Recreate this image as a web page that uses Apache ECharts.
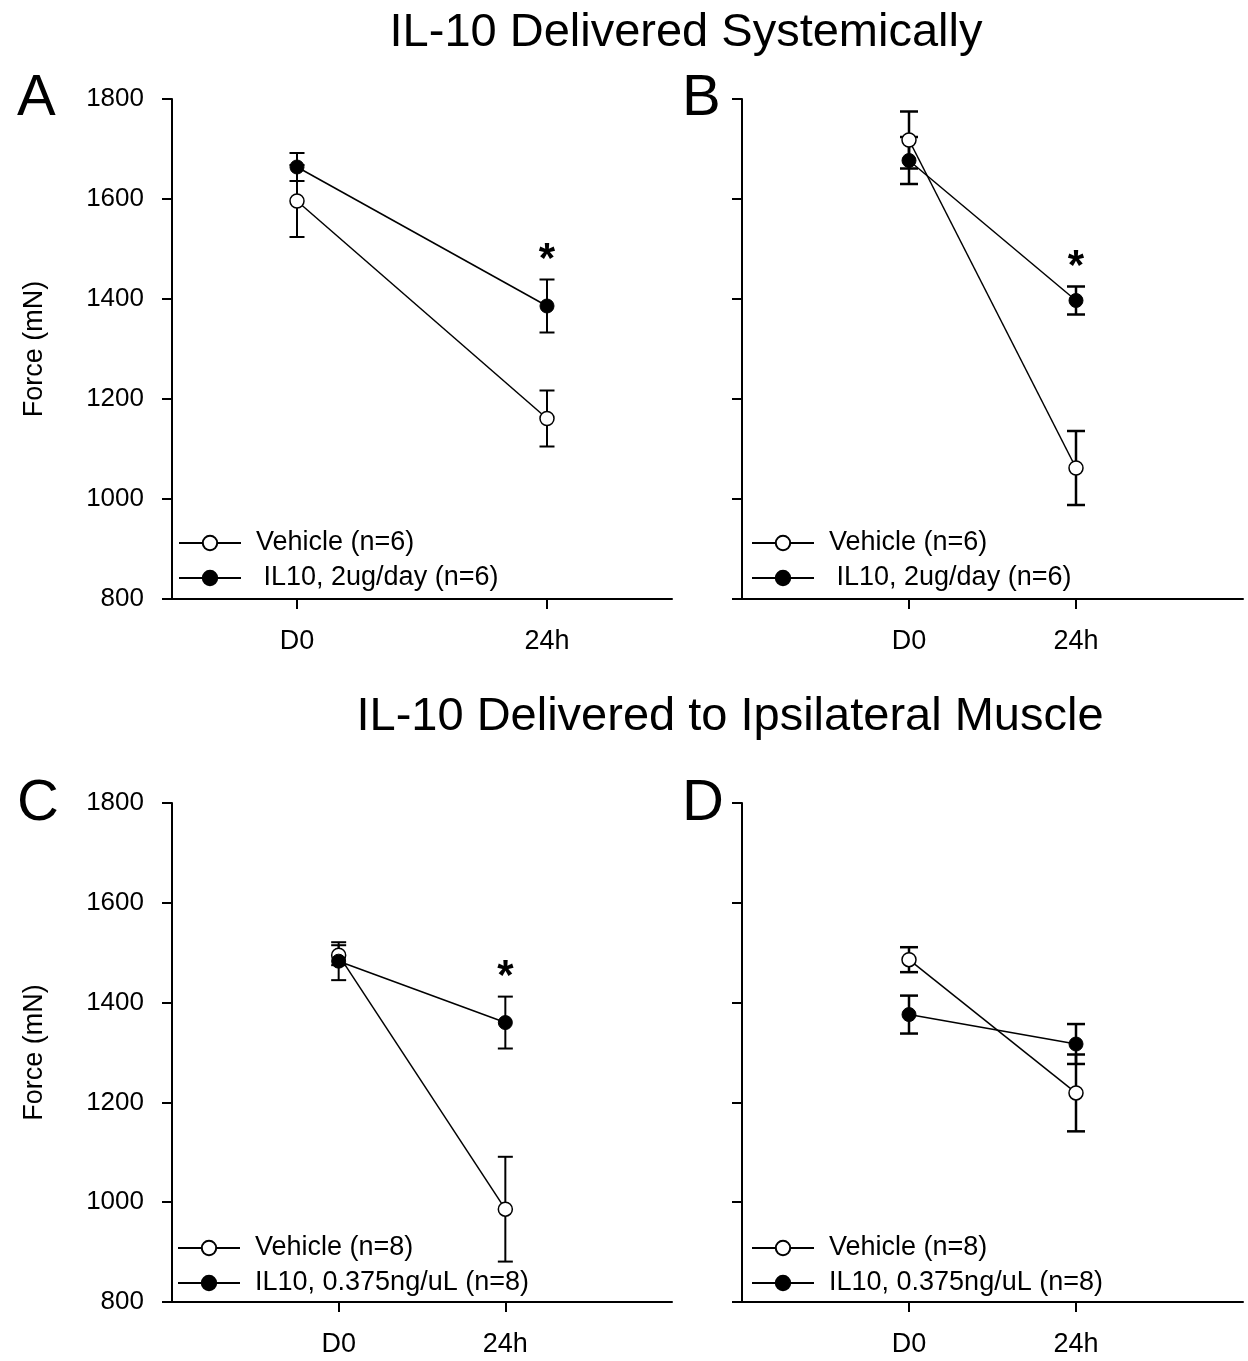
<!DOCTYPE html>
<html>
<head>
<meta charset="utf-8">
<title>IL-10 force</title>
<script src="https://cdn.jsdelivr.net/npm/echarts@6/dist/echarts.min.js"></script>
<style>
html, body { margin: 0; padding: 0; background: #fff; }
#main { width: 1248px; height: 1361px; }
</style>
</head>
<body>
<div id="main"></div>
<script>
var timePoints = ['D0', '24h'];
var tickX = [0, 1];

// A - systemic
var vehA = [1596, 1161];
var vehA_se = [72, 56];
var ilA = [1664, 1386];
var ilA_se = [28, 53];
var starA = [0, 1];

// B - systemic
var vehB = [1718, 1062];
var vehB_se = [57, 74];
var ilB = [1677, 1397];
var ilB_se = [47, 28];
var starB = [0, 1];

// C - ipsilateral
var vehC = [1495, 986];
var vehC_se = [20, 105];
var ilC = [1483, 1360];
var ilC_se = [38, 52];
var starC = [0, 1];

// D - ipsilateral
var vehD = [1486, 1219];
var vehD_se = [25, 77];
var ilD = [1376, 1317];
var ilD_se = [38, 40];
var starD = [0, 0];

var vehName6 = 'Vehicle (n=6)';
var ilName6 = ' IL10, 2ug/day (n=6)';
var vehName8 = 'Vehicle (n=8)';
var ilName8 = 'IL10, 0.375ng/uL (n=8)';

var FONT = '"Liberation Sans", Arial, sans-serif';

var panels = [
	{veh: vehA, vehSe: vehA_se, il: ilA, ilSe: ilA_se, star: starA, vehName: vehName6, ilName: ilName6,
		grid: {left: 172, top: 99, width: 500, height: 500}, xMin: -0.5, xMax: 1.5, labels: true, cap: 7.5, ew: 2},
	{veh: vehB, vehSe: vehB_se, il: ilB, ilSe: ilB_se, star: starB, vehName: vehName6, ilName: ilName6,
		grid: {left: 742, top: 99, width: 501, height: 500}, xMin: -1, xMax: 2, labels: false, cap: 9, ew: 2.5},
	{veh: vehC, vehSe: vehC_se, il: ilC, ilSe: ilC_se, star: starC, vehName: vehName8, ilName: ilName8,
		grid: {left: 172, top: 803, width: 500, height: 499}, xMin: -1, xMax: 2, labels: true, cap: 7.5, ew: 2},
	{veh: vehD, vehSe: vehD_se, il: ilD, ilSe: ilD_se, star: starD, vehName: vehName8, ilName: ilName8,
		grid: {left: 742, top: 803, width: 501, height: 499}, xMin: -1, xMax: 2, labels: false, cap: 9, ew: 2.5}
];

function makeErr(capHalf, lw){
	return function(params, api){
		var x = api.value(0), m = api.value(1), se = api.value(2), star = api.value(3);
		var top = api.coord([x, m + se]);
		var bot = api.coord([x, m - se]);
		var st = {stroke: '#000', lineWidth: lw};
		var kids = [
			{type: 'line', shape: {x1: top[0], y1: top[1], x2: bot[0], y2: bot[1]}, style: st},
			{type: 'line', shape: {x1: top[0] - capHalf, y1: top[1], x2: top[0] + capHalf, y2: top[1]}, style: st},
			{type: 'line', shape: {x1: bot[0] - capHalf, y1: bot[1], x2: bot[0] + capHalf, y2: bot[1]}, style: st}
		];
		if(star){
			kids.push({type: 'text', style: {text: '*', x: top[0], y: top[1] - 19, align: 'center', verticalAlign: 'middle',
				font: 'bold 42px ' + FONT, fill: '#000'}});
		}
		return {type: 'group', children: kids};
	};
}

var grids = [], xAxes = [], yAxes = [], series = [], legends = [];
var legendPos = [[178, 529], [751, 529], [177, 1234], [751, 1234]];

panels.forEach(function(p, i){
	grids.push(p.grid);
	xAxes.push({
		gridIndex: i, type: 'value', min: p.xMin, max: p.xMax,
		axisLine: {show: true, onZero: false, lineStyle: {color: '#000', width: 2}},
		axisTick: {show: true, customValues: tickX, length: 10, lineStyle: {color: '#000', width: 2}},
		axisLabel: {show: true, customValues: tickX, margin: 29, fontSize: 27, color: '#000', fontFamily: FONT,
			formatter: function(v){ return timePoints[Math.round(v)]; }},
		splitLine: {show: false}
	});
	yAxes.push({
		gridIndex: i, type: 'value', min: 800, max: 1800, interval: 200,
		axisLine: {show: true, onZero: false, lineStyle: {color: '#000', width: 2}},
		axisTick: {show: true, length: 10, lineStyle: {color: '#000', width: 2}},
		axisLabel: {show: p.labels, margin: 28, fontSize: 26, color: '#000', fontFamily: FONT,
			formatter: function(v){ return String(v); }},
		splitLine: {show: false},
		name: p.labels ? 'Force (mN)' : '', nameLocation: 'middle', nameGap: 124,
		nameTextStyle: {fontSize: 27, color: '#000', fontFamily: FONT}
	});

	var errData = [];
	for(var k = 0; k < 2; k++){
		errData.push([k, p.veh[k], p.vehSe[k], 0]);
		errData.push([k, p.il[k], p.ilSe[k], p.star[k]]);
	}
	series.push({
		type: 'custom', xAxisIndex: i, yAxisIndex: i, z: 1, silent: true,
		renderItem: makeErr(p.cap, p.ew), data: errData
	});
	series.push({
		name: p.vehName, type: 'line', xAxisIndex: i, yAxisIndex: i, z: 3,
		data: p.veh.map(function(v, k){ return [k, v]; }),
		symbol: 'circle', symbolSize: 14,
		itemStyle: {color: '#fff', borderColor: '#000', borderWidth: 1.5},
		lineStyle: {color: '#000', width: 1.5}
	});
	series.push({
		name: p.ilName, type: 'line', xAxisIndex: i, yAxisIndex: i, z: 4,
		data: p.il.map(function(v, k){ return [k, v]; }),
		symbol: 'circle', symbolSize: 14,
		itemStyle: {color: '#000', borderColor: '#000', borderWidth: 1},
		lineStyle: {color: '#000', width: 1.5}
	});
	legends.push({
		data: [p.vehName, p.ilName], orient: 'vertical', selectedMode: false,
		left: legendPos[i][0], top: legendPos[i][1], padding: 0,
		itemWidth: 62, itemHeight: 18, itemGap: 7,
		textStyle: {fontSize: 27, color: '#000', fontFamily: FONT, lineHeight: 28, padding: [0, 0, 0, 10]}
	});
});

var myChart = echarts.init(document.getElementById('main'));
myChart.setOption({
	backgroundColor: '#fff',
	animation: false,
	textStyle: {fontFamily: FONT},
	grid: grids,
	xAxis: xAxes,
	yAxis: yAxes,
	legend: legends,
	series: series,
	graphic: [
		{type: 'text', x: 686, y: 33, style: {text: 'IL-10 Delivered Systemically', font: '47px ' + FONT, fill: '#000', align: 'center', verticalAlign: 'middle'}},
		{type: 'text', x: 730, y: 717, style: {text: 'IL-10 Delivered to Ipsilateral Muscle', font: '47px ' + FONT, fill: '#000', align: 'center', verticalAlign: 'middle'}},
		{type: 'text', x: 17, y: 99, style: {text: 'A', font: '58px ' + FONT, fill: '#000', verticalAlign: 'middle'}},
		{type: 'text', x: 682, y: 99, style: {text: 'B', font: '58px ' + FONT, fill: '#000', verticalAlign: 'middle'}},
		{type: 'text', x: 17, y: 804, style: {text: 'C', font: '58px ' + FONT, fill: '#000', verticalAlign: 'middle'}},
		{type: 'text', x: 682, y: 804, style: {text: 'D', font: '58px ' + FONT, fill: '#000', verticalAlign: 'middle'}}
	]
});

window.onresize = function(){
	myChart.resize();
};
</script>
</body>
</html>
